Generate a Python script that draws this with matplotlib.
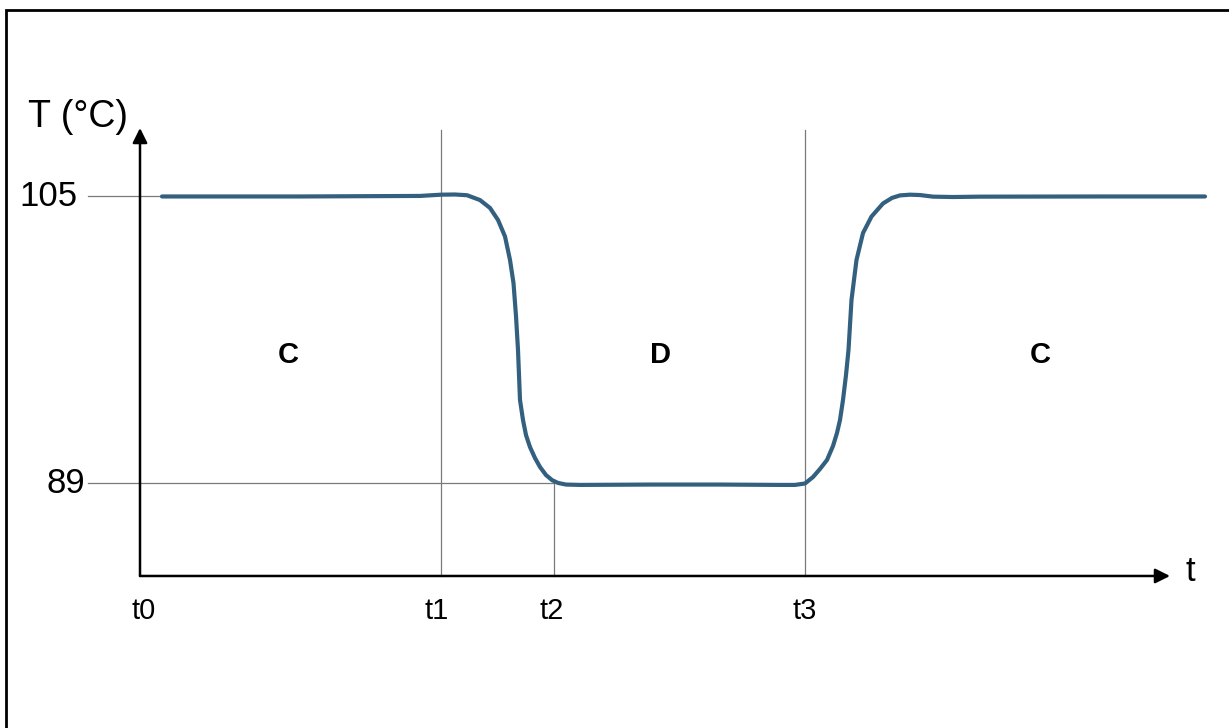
import numpy as np
import matplotlib
matplotlib.use('Agg')
import matplotlib.pyplot as plt
from matplotlib.patches import Rectangle

plt.rcParams['font.family'] = ['Liberation Sans', 'DejaVu Sans']

# Temperature curve (time in arbitrary units, temperature in deg C)
t_curve = [2.2, 16.0, 28.0, 30.1, 31.5, 32.7, 34.0, 35.0, 35.8, 36.5, 37.0, 37.35,
           37.6, 37.8, 38.0, 38.3, 38.6, 39.0, 39.5, 40.0, 40.6, 41.2, 41.8, 42.6,
           44.0, 51.0, 58.0, 64.0, 65.5, 66.5, 67.3, 68.0, 68.7, 69.3, 69.7, 70.0,
           70.3, 70.6, 70.85, 71.15, 71.65, 72.3, 73.15, 74.3, 75.2, 76.0, 77.0,
           78.0, 79.3, 81.3, 84.0, 96.0, 106.5]
T_curve = [105.0, 105.0, 105.03, 105.10, 105.11, 105.07, 104.80, 104.36, 103.69,
           102.77, 101.46, 100.17, 98.33, 96.44, 93.65, 92.53, 91.69, 91.02, 90.41,
           89.91, 89.46, 89.18, 89.02, 88.93, 88.91, 88.93, 88.93, 88.91, 88.91,
           88.99, 89.35, 89.80, 90.30, 91.08, 91.81, 92.53, 93.65, 95.04, 96.44,
           99.23, 101.46, 102.96, 103.88, 104.61, 104.92, 105.06, 105.10, 105.08,
           104.99, 104.97, 104.99, 105.0, 105.0]

# Reference levels and instants
T_high = 105
T_low = 89
tick_names = ['t0', 't1', 't2', 't3']
tick_times = [0.0, 30.1, 41.4, 66.5]
phase_names = ['C', 'D', 'C']
phase_times = [14.8, 52.0, 90.0]

T_origin = 83.83
T_top = 108.82
t_end = 103.0

fig = plt.figure(figsize=(12.29, 7.28), dpi=100)
ax = fig.add_axes([0, 0, 1, 1])
ax.set_xlim(-14.0, 108.9)
ax.set_ylim(75.35, 115.96)
ax.axis('off')

# outer frame (clipped on right and bottom like the reference)
fig.patches.append(Rectangle((6 / 1229, -0.2), 1.3, 1.2 - 10 / 728,
                             transform=fig.transFigure, fill=False,
                             edgecolor='black', linewidth=2.0))

grey = '#7a7a7a'
# horizontal reference lines
ax.plot([-5.2, 2.2], [T_high, T_high], color=grey, lw=0.9)
ax.plot([-5.2, tick_times[2]], [T_low, T_low], color=grey, lw=0.9)
# vertical lines at t1, t3 (full) and t2 (down from 89)
for tt in (tick_times[1], tick_times[3]):
    ax.plot([tt, tt], [T_origin, T_top - 0.1], color=grey, lw=0.9)
ax.plot([tick_times[2], tick_times[2]], [T_origin, T_low], color=grey, lw=0.9)

# axes with arrows
ax.annotate('', xy=(t_end, T_origin), xytext=(0, T_origin),
            arrowprops=dict(arrowstyle='-|>', color='black', lw=1.8,
                            mutation_scale=22, shrinkA=0, shrinkB=0))
ax.annotate('', xy=(0, T_top), xytext=(0, T_origin),
            arrowprops=dict(arrowstyle='-|>', color='black', lw=1.8,
                            mutation_scale=22, shrinkA=0, shrinkB=0))

# curve
ax.plot(t_curve, T_curve, color='#33607f', lw=3.0, solid_capstyle='round',
        solid_joinstyle='round')

# labels
ax.text(-1.2, 109.45, 'T (°C)', fontsize=27, ha='right', va='center')
ax.text(-6.2, T_high, str(T_high), fontsize=25, ha='right', va='center')
ax.text(-5.5, T_low, str(T_low), fontsize=25, ha='right', va='center')
ax.text(105.0, 84.1, 't', fontsize=25, ha='center', va='center')
tick_offsets = [0.4, -0.4, -0.25, 0.0]
for name, tt, off in zip(tick_names, tick_times, tick_offsets):
    ax.text(tt + off, 81.9, name, fontsize=21, ha='center', va='center')
for name, tt in zip(phase_names, phase_times):
    ax.text(tt, 96.16, name, fontsize=21, fontweight='bold', ha='center', va='center')

plt.savefig('out.png', dpi=100)
